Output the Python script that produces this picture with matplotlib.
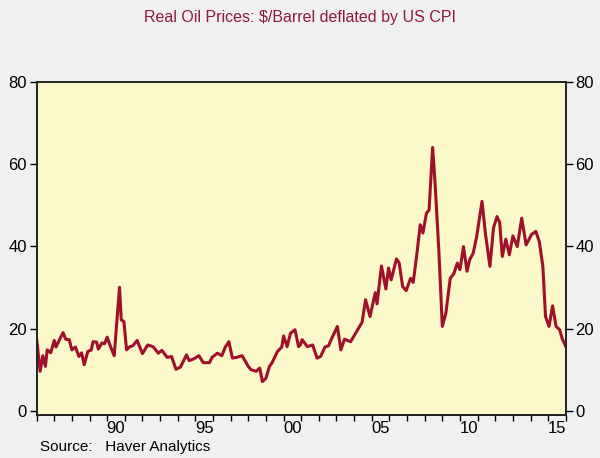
import numpy as np
import matplotlib
matplotlib.use("Agg")
import matplotlib.pyplot as plt

# values (decimal year, real $/barrel)
years = [1986.0, 1986.2, 1986.35, 1986.5, 1986.6, 1986.8, 1987.0, 1987.1, 1987.3, 1987.5,
         1987.65, 1987.85, 1988.0, 1988.2, 1988.4, 1988.55, 1988.7, 1988.9, 1989.1, 1989.2,
         1989.4, 1989.5, 1989.7, 1989.85, 1990.0, 1990.2, 1990.4, 1990.7, 1990.8, 1990.95,
         1991.1, 1991.25, 1991.45, 1991.7, 1992.0, 1992.3, 1992.6, 1992.9, 1993.1, 1993.4,
         1993.65, 1993.9, 1994.15, 1994.5, 1994.65, 1994.9, 1995.2, 1995.45, 1995.8, 1995.95,
         1996.25, 1996.5, 1996.7, 1996.9, 1997.1, 1997.35, 1997.65, 1998.0, 1998.15, 1998.45,
         1998.65, 1998.8, 1999.0, 1999.2, 1999.35, 1999.65, 1999.9, 2000.0, 2000.2, 2000.4,
         2000.65, 2000.85, 2000.95, 2001.05, 2001.35, 2001.65, 2001.9, 2002.1, 2002.35, 2002.55,
         2002.7, 2003.05, 2003.25, 2003.45, 2003.8, 2004.2, 2004.45, 2004.65, 2004.9, 2005.2,
         2005.3, 2005.55, 2005.8, 2005.95, 2006.1, 2006.4, 2006.55, 2006.75, 2006.95, 2007.2,
         2007.35, 2007.55, 2007.75, 2007.9, 2008.1, 2008.25, 2008.45, 2008.6, 2008.8, 2009.0,
         2009.2, 2009.45, 2009.65, 2009.85, 2010.0, 2010.2, 2010.4, 2010.55, 2010.75, 2010.95,
         2011.25, 2011.45, 2011.7, 2011.9, 2012.1, 2012.25, 2012.4, 2012.6, 2012.8, 2013.0,
         2013.25, 2013.5, 2013.75, 2014.05, 2014.3, 2014.5, 2014.7, 2014.85, 2015.05, 2015.25,
         2015.45, 2015.65, 2015.8, 2016.0]
price = [17.5, 9.6, 13.4, 10.8, 14.8, 14.1, 17.1, 15.5, 17.3, 19.0,
         17.4, 17.3, 14.8, 15.5, 13.2, 14.1, 11.2, 14.4, 14.8, 16.8,
         16.7, 15.0, 16.5, 16.3, 17.9, 15.5, 13.4, 30.0, 22.1, 21.7,
         14.8, 15.5, 15.8, 17.1, 13.9, 16.0, 15.6, 14.0, 14.7, 13.0,
         13.2, 10.1, 10.6, 13.6, 12.2, 12.6, 13.4, 11.7, 11.7, 13.0,
         14.0, 13.4, 15.5, 16.8, 12.8, 13.0, 13.4, 10.8, 10.0, 9.6,
         10.4, 7.1, 7.9, 10.8, 11.7, 14.4, 15.5, 18.2, 15.6, 18.9,
         19.7, 15.6, 16.0, 17.3, 15.6, 16.0, 12.8, 13.2, 15.5, 15.8,
         17.3, 20.5, 14.8, 17.4, 16.8, 19.7, 21.5, 27.0, 22.9, 28.7,
         26.0, 35.2, 29.6, 34.7, 31.8, 36.9, 36.0, 30.2, 29.2, 32.2,
         31.2, 37.9, 45.2, 43.2, 48.0, 48.8, 64.0, 54.5, 39.1, 20.5,
         23.7, 32.2, 33.3, 35.9, 34.3, 39.9, 33.9, 36.7, 38.3, 42.4,
         50.9, 42.8, 35.1, 44.4, 47.2, 45.8, 37.5, 41.7, 37.9, 42.5,
         39.9, 46.8, 40.3, 42.8, 43.6, 41.1, 35.1, 22.9, 20.5, 25.5,
         20.5, 19.7, 17.5, 15.6]

title = "Real Oil Prices: $/Barrel deflated by US CPI"
source = "Source:   Haver Analytics"
label_years = [1990, 1995, 2000, 2005, 2010, 2015]
y_ticks = [0, 20, 40, 60, 80]

red = "#a0102a"

plt.rcParams["font.family"] = ["Liberation Sans", "DejaVu Sans"]

fig = plt.figure(figsize=(6, 4.58), dpi=100, facecolor="#f0f0f0")
ax = fig.add_axes([0.061, 0.094, 0.882, 0.728])
ax.set_facecolor("#fbf8c9")

ax.plot(years, price, color=red, linewidth=2.2, solid_joinstyle="round")

ax.set_xlim(1986, 2016)
ax.set_ylim(-1, 80)

# year boundary ticks, labels centred in the middle of each year
ax.set_xticks(np.arange(1986, 2017))
ax.set_xticklabels([])
ax.set_xticks([y + 0.5 for y in label_years], minor=True)
ax.set_xticklabels(["%02d" % (y % 100) for y in label_years], minor=True)
ax.tick_params(axis="x", which="major", direction="out", length=4, width=1, color="black")
ax.tick_params(axis="x", which="minor", length=0, pad=4, labelsize=12)

ax.set_yticks(y_ticks)
ax.tick_params(axis="y", direction="out", length=5, width=1, labelsize=12,
               left=True, right=True, labelleft=True, labelright=True, pad=2)

for spine in ax.spines.values():
    spine.set_linewidth(1.4)
    spine.set_color("#222222")

fig.text(0.5, 0.962, title, ha="center", va="center", color="#8c1a3c", fontsize=11.5)
fig.text(0.067, 0.008, source, ha="left", va="bottom", color="black", fontsize=11)

fig.savefig("out.png", dpi=100, facecolor=fig.get_facecolor())
